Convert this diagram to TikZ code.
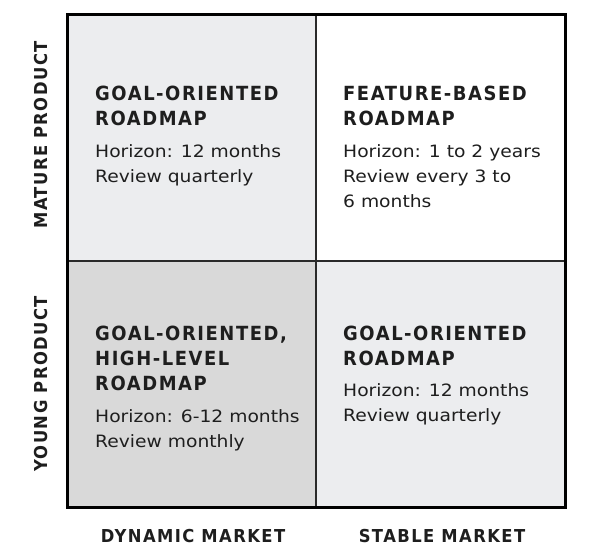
\documentclass[tikz,border=0pt]{standalone}
\usepackage{fontspec}
\setmainfont{DejaVu Sans}[FakeStretch=1.1]
\newfontfamily\headfont{DejaVu Sans Bold}[FakeStretch=0.92,LetterSpace=8]
\definecolor{ink}{HTML}{1E1E1E}
\definecolor{softgrey}{HTML}{ECEDEF}
\definecolor{midgrey}{HTML}{D9D9D9}
\definecolor{rule}{HTML}{2A2A2A}
\begin{document}
% multi-line nodes are anchored at the baseline of their last line
\begin{tikzpicture}[x=1pt,y=-1pt,
  head/.style={anchor=base west, inner sep=0pt, align=left, text=ink,
    font=\headfont\fontsize{19.5}{25}\selectfont},
  body/.style={anchor=base west, inner sep=0pt, align=left, text=ink,
    font=\fontsize{17}{25}\selectfont},
  axis/.style={anchor=base, inner sep=0pt, text=ink,
    font=\headfont\fontsize{17.8}{22}\selectfont}]
\useasboundingbox (0,0) rectangle (598,552);

% quadrant backgrounds
\fill[softgrey] (67,14) rectangle (316,261);
\fill[midgrey]  (67,261) rectangle (316,507);
\fill[softgrey] (316,261) rectangle (565,507);

% dividers and frame
\draw[rule, line width=1.4pt] (316,14) -- (316,507);
\draw[rule, line width=1.4pt] (67,261) -- (565,261);
\draw[black, line width=3pt] (67,14) rectangle (565,507);

% top-left: mature product, dynamic market
\node[head] (tlhead) at (95,125) {GOAL-ORIENTED\\ROADMAP};
\node[body] (tlbody) at (95,182) {Horizon: 12 months\\Review quarterly};

% top-right: mature product, stable market
\node[head] (trhead) at (343,125) {FEATURE-BASED\\ROADMAP};
\node[body] (trbody) at (343,207) {Horizon: 1 to 2 years\\Review every 3 to\\6 months};

% bottom-left: young product, dynamic market
\node[head] (blhead) at (95,390) {GOAL-ORIENTED,\\HIGH-LEVEL\\ROADMAP};
\node[body] (blbody) at (95,447) {Horizon: 6-12 months\\Review monthly};

% bottom-right: young product, stable market
\node[head] (brhead) at (343,365) {GOAL-ORIENTED\\ROADMAP};
\node[body] (brbody) at (343,421) {Horizon: 12 months\\Review quarterly};

% axis labels
\node[axis] (xdyn) at (193,542) {DYNAMIC MARKET};
\node[axis] (xsta) at (442,542) {STABLE MARKET};
\node[axis, rotate=90] (ymat) at (48,135) {MATURE PRODUCT};
\node[axis, rotate=90] (yyng) at (48,384) {YOUNG PRODUCT};
\end{tikzpicture}
\end{document}
